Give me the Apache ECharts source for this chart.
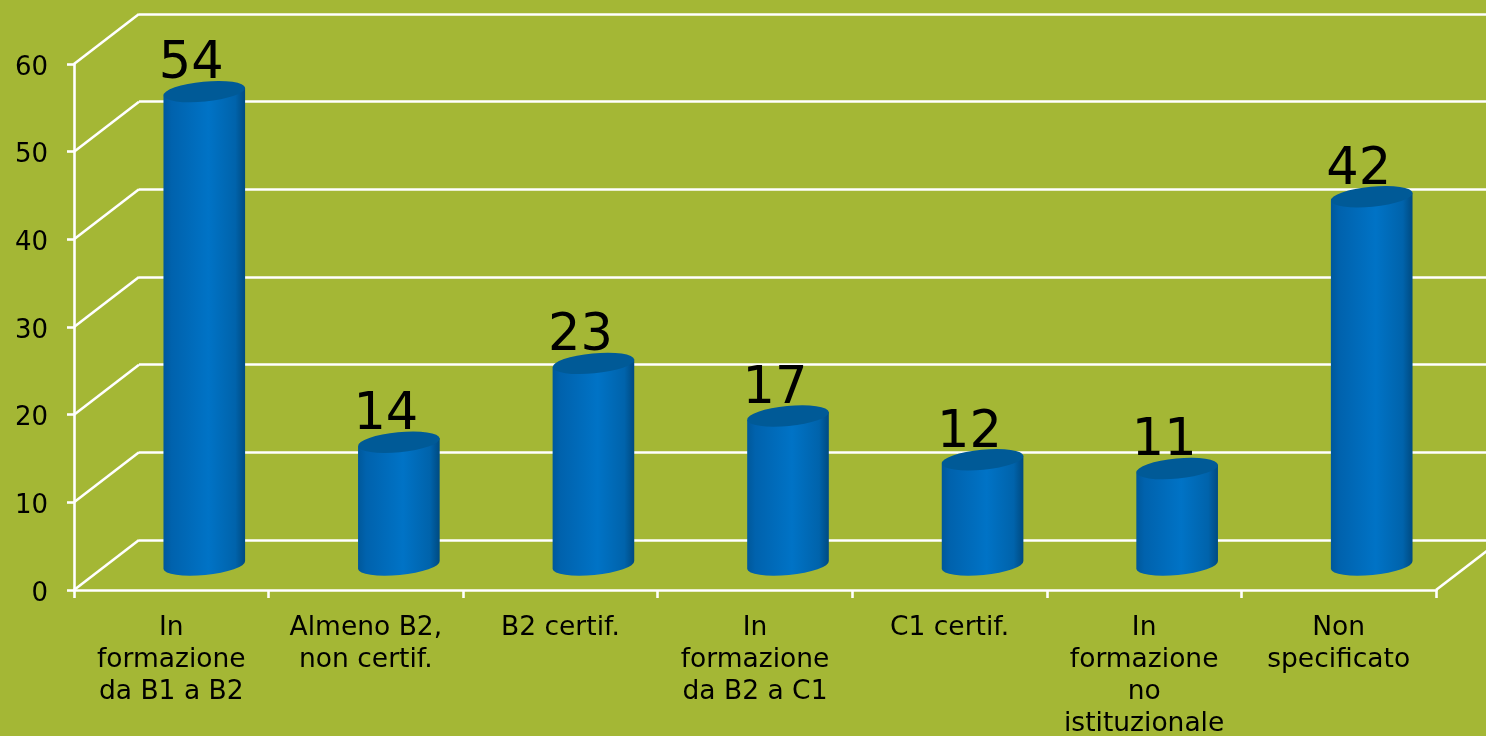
<!DOCTYPE html>
<html>
<head>
<meta charset="utf-8">
<style>html,body{margin:0;padding:0;background:#a4b735}#c{width:1486px;height:736px}</style>
<script src="https://cdn.jsdelivr.net/npm/echarts@6/dist/echarts.min.js"></script>
</head>
<body>
<div id="c"></div>
<script>
const categories = ["In\nformazione\nda B1 a B2", "Almeno B2,\nnon certif.", "B2 certif.", "In\nformazione\nda B2 a C1", "C1 certif.", "In\nformazione\nno\nistituzionale", "Non\nspecificato"];
const values = [54, 14, 23, 17, 12, 11, 42];
const yTicks = [0, 10, 20, 30, 40, 50, 60];

const BG = '#a4b735', LINE = '#ffffff', LW = 2.6, FONT = '"DejaVu Sans", Verdana, sans-serif';
const DEPTH_X = 65, DEPTH_Y = -50, RX = 41, RY = 10, TILT = -5.5;

function renderEdge(params, api) {
  const cs = params.coordSys;
  const y = api.coord([0, api.value(0)])[1];
  const children = [{
    type: 'line',
    shape: { x1: cs.x, y1: y, x2: cs.x + DEPTH_X, y2: y + DEPTH_Y },
    style: { stroke: LINE, lineWidth: LW }
  }];
  if (api.value(0) === 0) {
    const xr = cs.x + cs.width;
    children.push({
      type: 'line',
      shape: { x1: xr, y1: y, x2: xr + DEPTH_X, y2: y + DEPTH_Y },
      style: { stroke: LINE, lineWidth: LW }
    });
  }
  return { type: 'group', children };
}

function renderCylinder(params, api) {
  const top = api.coord([api.value(0), api.value(1)]);
  const base = api.coord([api.value(0), 0]);
  const cx = top[0] + 33, ty = top[1] + DEPTH_Y / 2, by = base[1] + DEPTH_Y / 2;
  const rad = TILT * Math.PI / 180;
  const ex = RX * Math.cos(rad), ey = RX * Math.sin(rad);
  const body = `M${cx - ex} ${ty - ey}L${cx - ex} ${by - ey}A${RX} ${RY} ${TILT} 0 0 ${cx + ex} ${by + ey}L${cx + ex} ${ty + ey}Z`;
  const cap = `M${cx - ex} ${ty - ey}A${RX} ${RY} ${TILT} 0 0 ${cx + ex} ${ty + ey}A${RX} ${RY} ${TILT} 0 0 ${cx - ex} ${ty - ey}Z`;
  return {
    type: 'group',
    children: [
      {
        type: 'path',
        shape: { pathData: body },
        style: {
          fill: {
            type: 'linear', x: 0, y: 0, x2: 1, y2: 0,
            colorStops: [
              { offset: 0, color: '#00589a' },
              { offset: 0.1, color: '#0062ad' },
              { offset: 0.55, color: '#0073c6' },
              { offset: 0.88, color: '#0063ab' },
              { offset: 1, color: '#004a80' }
            ]
          }
        }
      },
      { type: 'path', shape: { pathData: cap }, style: { fill: '#005a97' } },
      {
        type: 'text',
        style: {
          text: String(api.value(1)),
          x: cx - 13, y: ty - 1,
          align: 'center', verticalAlign: 'bottom',
          font: '51px ' + FONT, fill: '#000000'
        }
      }
    ]
  };
}

const chart = echarts.init(document.getElementById('c'), null, { renderer: 'canvas' });
chart.setOption({
  animation: false,
  backgroundColor: BG,
  grid: [
    { left: 74, top: 64, width: 1362, height: 526, outerBoundsMode: 'none' },
    { left: 139, top: 14, width: 1400, height: 526, outerBoundsMode: 'none' }
  ],
  xAxis: [
    {
      type: 'category', gridIndex: 0, data: categories, boundaryGap: true,
      axisLine: { show: true, onZero: false, lineStyle: { color: LINE, width: LW } },
      axisTick: { show: true, length: 8, lineStyle: { color: LINE, width: LW } },
      axisLabel: { interval: 0, margin: 22, color: '#000', fontFamily: 'DejaVu Sans', fontSize: 26.5, lineHeight: 32, verticalAlign: 'top', hideOverlap: false },
      splitLine: { show: false }
    },
    { type: 'category', gridIndex: 1, data: categories, show: false }
  ],
  yAxis: [
    {
      type: 'value', gridIndex: 0, min: 0, max: 60, interval: 10,
      axisLine: { show: true, lineStyle: { color: LINE, width: LW } },
      axisTick: { show: true, length: 7, lineStyle: { color: LINE, width: LW } },
      axisLabel: { margin: 26, color: '#000', fontFamily: 'DejaVu Sans', fontSize: 26, verticalAlign: 'top', lineHeight: 8 },
      splitLine: { show: false }
    },
    {
      type: 'value', gridIndex: 1, min: 0, max: 60, interval: 10,
      axisLine: { show: false }, axisTick: { show: false }, axisLabel: { show: false },
      splitLine: { show: true, lineStyle: { color: LINE, width: LW } }
    }
  ],
  series: [
    {
      type: 'custom', name: 'edges', xAxisIndex: 0, yAxisIndex: 0, z: 1, silent: true,
      data: yTicks.map(v => [v]), encode: { y: 0 }, renderItem: renderEdge
    },
    {
      type: 'custom', name: 'values', xAxisIndex: 0, yAxisIndex: 0, z: 5,
      data: values.map((v, i) => [i, v]), encode: { x: 0, y: 1 }, renderItem: renderCylinder
    }
  ]
});
</script>
</body>
</html>
